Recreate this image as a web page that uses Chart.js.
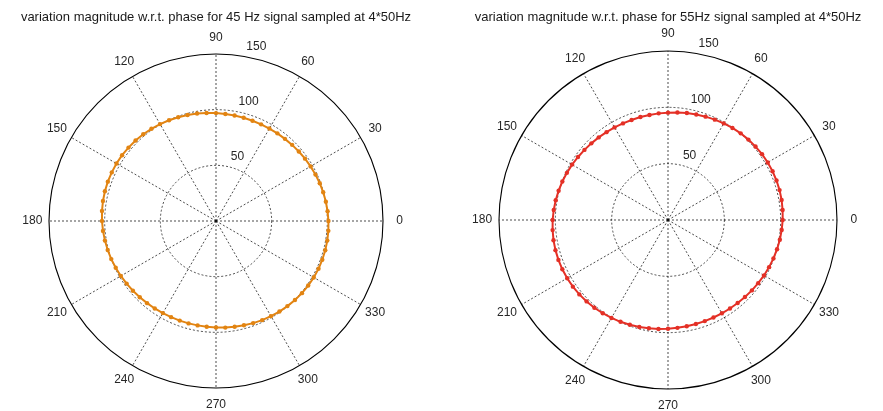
<!DOCTYPE html>
<html lang="en">
<head>
<meta charset="UTF-8">
<title>variation magnitude w.r.t. phase</title>
<script src="https://cdn.jsdelivr.net/npm/chart.js"></script>
<style>
  body { margin: 0; background: #fff; }
  canvas { position: absolute; top: 0; }
</style>
</head>
<body>
<canvas id="left" width="441" height="411" style="left:0"></canvas>
<canvas id="right" width="442" height="411" style="left:441px"></canvas>
<script>
// phase in degrees, one sample every 5 degrees (counter-clockwise from 0)
const angles = [0, 5, 10, 15, 20, 25, 30, 35, 40, 45, 50, 55, 60, 65, 70, 75, 80, 85,
  90, 95, 100, 105, 110, 115, 120, 125, 130, 135, 140, 145, 150, 155, 160, 165, 170, 175,
  180, 185, 190, 195, 200, 205, 210, 215, 220, 225, 230, 235, 240, 245, 250, 255, 260, 265,
  270, 275, 280, 285, 290, 295, 300, 305, 310, 315, 320, 325, 330, 335, 340, 345, 350, 355];

// 45 Hz signal
const mag45 = [101.0, 100.6, 100.2, 99.7, 99.2, 98.6, 98.1, 97.6, 97.1, 96.7, 96.3, 96.1,
  95.9, 95.8, 95.8, 96.0, 96.2, 96.5, 96.9, 97.4, 98.0, 98.6, 99.2, 99.8,
  100.5, 101.1, 101.7, 102.2, 102.6, 103.0, 103.2, 103.3, 103.4, 103.3, 103.1, 102.8,
  102.4, 101.9, 101.3, 100.7, 100.1, 99.4, 98.7, 98.0, 97.4, 96.8, 96.3, 95.9,
  95.5, 95.3, 95.2, 95.2, 95.2, 95.4, 95.7, 96.1, 96.5, 97.0, 97.6, 98.2,
  98.7, 99.3, 99.8, 100.3, 100.8, 101.1, 101.4, 101.6, 101.6, 101.6, 101.5, 101.3];

// 55 Hz signal
const mag55 = [101.8, 102.1, 102.4, 102.5, 102.5, 102.4, 102.2, 101.9, 101.4, 100.9, 100.4, 99.7,
  99.0, 98.3, 97.6, 97.0, 96.4, 95.8, 95.3, 95.0, 94.7, 94.6, 94.5, 94.6,
  94.9, 95.2, 95.7, 96.2, 96.8, 97.5, 98.3, 99.0, 99.8, 100.5, 101.2, 101.8,
  102.4, 102.8, 103.2, 103.4, 103.5, 103.5, 103.3, 103.1, 102.7, 102.2, 101.7, 101.0,
  100.4, 99.7, 99.0, 98.3, 97.6, 97.1, 96.5, 96.1, 95.8, 95.6, 95.5, 95.5,
  95.6, 95.9, 96.2, 96.6, 97.2, 97.7, 98.4, 99.0, 99.6, 100.2, 100.8, 101.3];

const ringTicks = [50, 100, 150];
const angleTicks = [0, 30, 60, 90, 120, 150, 180, 210, 240, 270, 300, 330];

// radar goes clockwise, polar goes counter-clockwise: reverse the order after index 0
const order = angles.map((a, i) => i === 0 ? 0 : angles.length - i);
const radarLabels = order.map(k => angles[k]);

const FONT = '"Liberation Sans", Arial, Helvetica, sans-serif';

const polarText = {
  id: 'polarText',
  afterDraw(chart) {
    const r = chart.scales.r;
    const ctx = chart.ctx;
    const rmax = r.getDistanceFromCenterForValue(150);
    ctx.save();
    ctx.font = '12px ' + FONT;
    ctx.fillStyle = '#262626';
    ctx.textAlign = 'center';
    ctx.textBaseline = 'middle';
    angleTicks.forEach(a => {
      const t = a * Math.PI / 180;
      ctx.fillText(String(a), r.xCenter + 1.1 * rmax * Math.cos(t), r.yCenter - 1.1 * rmax * Math.sin(t));
    });
    ctx.textAlign = 'left';
    ctx.textBaseline = 'bottom';
    const t82 = 82 * Math.PI / 180;
    ringTicks.forEach(v => {
      const d = r.getDistanceFromCenterForValue(v + 2.5);
      ctx.fillText('  ' + v, r.xCenter + d * Math.cos(t82), r.yCenter - d * Math.sin(t82));
    });
    ctx.restore();
  }
};

function makePolar(id, title, values, color, pad, titlePad) {
  return new Chart(document.getElementById(id), {
    type: 'radar',
    data: {
      labels: radarLabels,
      datasets: [{
        data: order.map(k => values[k]),
        borderColor: color,
        backgroundColor: color,
        borderWidth: 2,
        pointRadius: 2.2,
        pointBorderWidth: 0,
        pointBackgroundColor: color,
        fill: false,
        tension: 0
      }]
    },
    options: {
      responsive: false,
      animation: false,
      devicePixelRatio: 1,
      layout: { padding: pad },
      plugins: {
        legend: { display: false },
        tooltip: { enabled: false },
        title: {
          display: true,
          text: title,
          color: '#1a1a1a',
          font: { family: FONT, size: 13, weight: 'normal' },
          padding: titlePad
        }
      },
      scales: {
        r: {
          min: 0,
          max: 150,
          startAngle: 90,
          ticks: { display: false, stepSize: 50 },
          pointLabels: { display: false },
          grid: {
            circular: true,
            color: '#000',
            lineWidth: c => c.tick && c.tick.value === 150 ? 1.1 : 0.7
          },
          border: {
            dash: c => c.tick && c.tick.value === 150 ? [] : [2, 2]
          },
          angleLines: {
            display: true,
            color: '#000',
            lineWidth: c => angleTicks.includes(radarLabels[c.index]) ? 0.7 : 0,
            borderDash: [2, 2]
          }
        }
      }
    },
    plugins: [polarText]
  });
}

makePolar('left', 'variation magnitude w.r.t. phase for 45 Hz signal sampled at 4*50Hz',
  mag45, 'rgb(226,132,18)', { left: 0, right: 9, top: 0, bottom: 23 }, { top: 10, bottom: 28.4 });
makePolar('right', 'variation magnitude w.r.t. phase for 55Hz signal sampled at 4*50Hz',
  mag55, 'rgb(228,48,38)', { left: 12, right: 0, top: 0, bottom: 22 }, { top: 10, bottom: 25.4 });
</script>
</body>
</html>
